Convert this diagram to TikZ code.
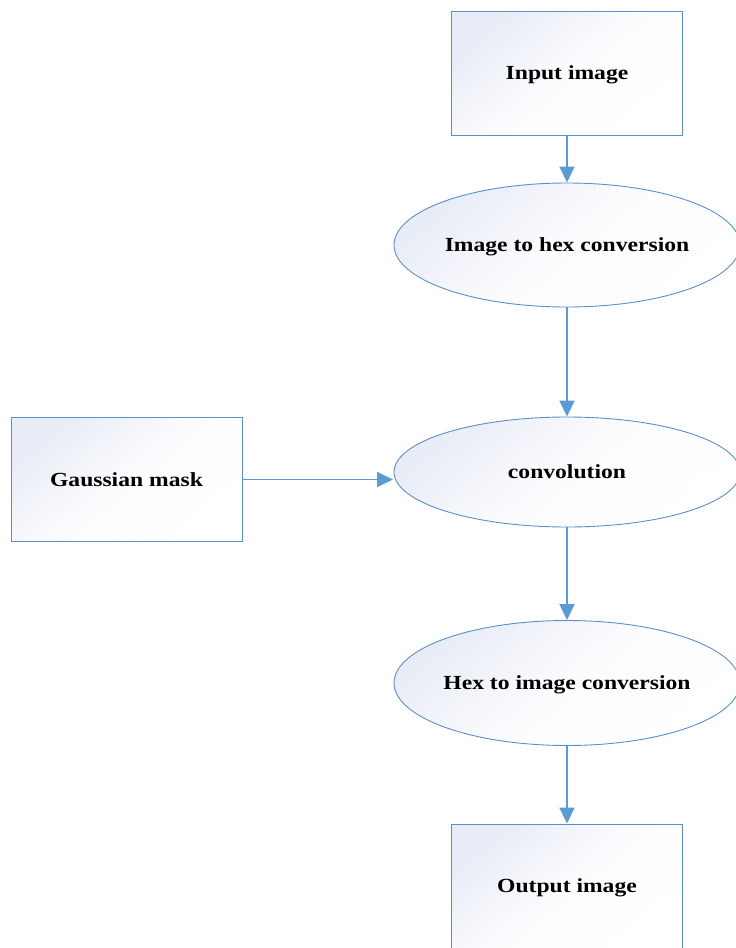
\documentclass[tikz,border=0pt]{standalone}
\usepackage{fontspec}
\newfontfamily\lblfont{Liberation Serif}[FakeStretch=1.18]
\usetikzlibrary{arrows.meta,shapes.geometric}
\definecolor{edgeblue}{HTML}{5B8FC9}
\definecolor{arrowblue}{HTML}{5B9BD5}
\definecolor{fillblue}{HTML}{E8ECF6}
\newcommand{\ztext}[1]{\makebox[0pt]{#1}}
\tikzset{
  shadefill/.style={top color=fillblue, bottom color=white, middle color=white!85!fillblue, shading angle=40},
  lbl/.style={font=\lblfont\bfseries\fontsize{20}{24}\selectfont, text depth=0pt},
  boxnode/.style={draw=edgeblue, line width=0.9pt, shadefill, rectangle, minimum width=231pt, minimum height=124pt, inner sep=0pt, lbl},
  ellnode/.style={draw=edgeblue, line width=0.9pt, shadefill, ellipse, minimum width=346pt, inner sep=0pt, lbl},
  flow/.style={draw=arrowblue, line width=1.7pt, -{Triangle[length=16pt,width=15pt]}}
}
\begin{document}
\begin{tikzpicture}[x=1pt,y=-1pt]
\useasboundingbox (0,0) rectangle (736,948);
\clip (0,0) rectangle (736,948);
\node[boxnode] (in) at (567,73) {Input image};
\node[ellnode, minimum height=124pt] (e1) at (567,245) {\ztext{Image to hex conversion}};
\node[ellnode, minimum height=110pt] (e2) at (567,472) {\ztext{convolution}};
\node[ellnode, minimum height=125pt] (e3) at (567,683) {\ztext{Hex to image conversion}};
\node[boxnode] (out) at (567,886) {Output image};
\node[boxnode] (g) at (126.5,479.5) {Gaussian mask};
\coordinate (gtip) at (393,479.5);
\draw[flow] (in.south) -- (e1.north);
\draw[flow] (e1.south) -- (e2.north);
\draw[flow] (g.east) -- (gtip);
\draw[flow] (e2.south) -- (e3.north);
\draw[flow] (e3.south) -- (out.north);
\end{tikzpicture}
\end{document}
